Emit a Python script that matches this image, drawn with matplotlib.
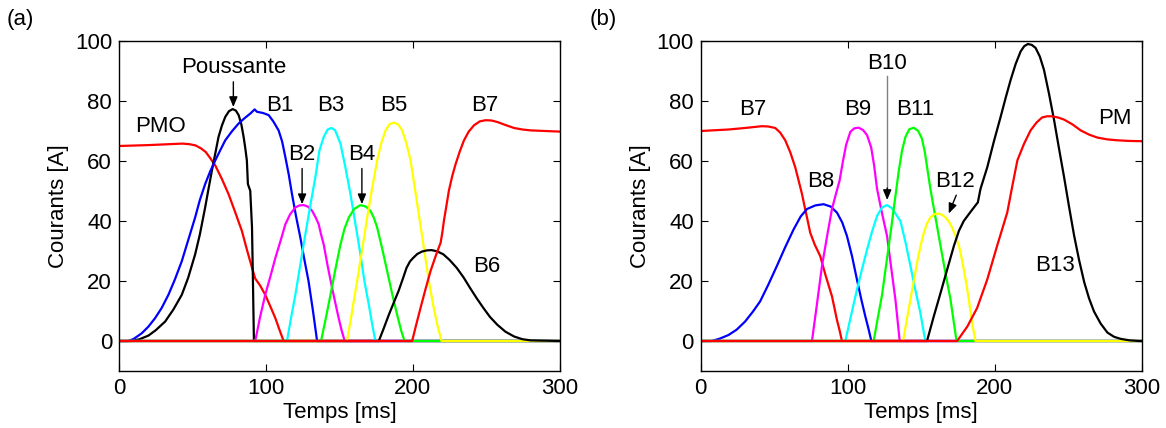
import matplotlib
matplotlib.use('Agg')
import matplotlib.pyplot as plt

plt.rcParams['font.family'] = ['Liberation Sans', 'DejaVu Sans']

# ---- panel (a) : courants (temps en ms, courant en A) ----
t_pmo = [0, 20, 43, 48, 52, 55.5, 59, 62, 65.5, 70, 74.5, 79, 83.6, 87, 90.5, 92.7, 96, 99.5, 103, 106.4, 109, 112, 300]
v_pmo = [65, 65.3, 65.8, 65.6, 65.2, 64.3, 63, 61, 58.5, 54, 49, 43, 36.7, 30.5, 24.4, 20.8, 18.5, 15.4, 11.5, 7.6, 4, 0, 0]

t_pous = [0, 8.6, 14, 20, 25, 31.4, 37, 42.7, 47, 51.8, 55, 58.6, 61, 63.2, 65.5, 67.7, 70, 72.3, 74.8, 77.3,
          79.5, 81.4, 83.2, 84.8, 86, 87, 87.7, 89.3, 90.5, 91.1, 91.8, 300]
v_pous = [0, 0, 0.6, 1.8, 3.6, 6.5, 10.5, 15.4, 21, 28.9, 35.5, 44.5, 51, 56.8, 62.5, 68, 71.8, 74.7, 76.6, 77.3,
          76.8, 75.3, 72.3, 68, 64, 60.2, 52.3, 50.1, 37.8, 21, 0, 0]

t_b1 = [0, 6.4, 10, 15.5, 20, 24.5, 29, 33.6, 38, 42.7, 47, 51.8, 55, 58.6, 62, 65.5, 69, 72.3, 77, 81.4, 85.5,
        89.3, 92.3, 93.9, 98, 101.8, 105, 108.6, 111, 113.2, 115.5, 117.7, 120.5, 123.4, 126, 129, 132, 134.8, 300]
v_b1 = [0, 0, 0.7, 2.6, 4.8, 7.6, 11, 15.4, 20.5, 26.6, 33.5, 41.2, 47, 52.3, 56.5, 60.2, 63.7, 66.9, 70, 72.5, 74.3,
        75.8, 77.2, 76.4, 76, 75.3, 73.2, 70.2, 66.5, 61.3, 55.5, 49, 41.5, 34.5, 27.5, 19.9, 10, 0, 0]

t_b2 = [0, 92.7, 96, 99.5, 103, 106.4, 110, 113.2, 116.5, 120, 122.8, 125.7, 128.5, 131.4, 134, 135.9, 137.5,
        139.3, 142, 145, 147.3, 149.5, 151.5, 153.6, 300]
v_b2 = [0, 0, 8, 15.4, 21.5, 27.7, 33.5, 38.9, 42.3, 44.5, 45.2, 45.3, 44.8, 43.4, 41, 38.9, 35.5,
        32.2, 25, 17.7, 12.5, 7.6, 3.5, 0, 0]

t_b3 = [0, 114.3, 117, 120, 123.4, 126.8, 130.2, 133.6, 136.4, 139.3, 142, 144.5, 147, 150.7, 154, 157.5, 160.9,
        164.3, 167, 170, 172.5, 174.5, 300]
v_b3 = [0, 0, 7.5, 15.4, 25.5, 35.6, 45.2, 54.6, 63.5, 68, 70.5, 71, 70.3, 65.8, 58, 49, 39,
        28.9, 20, 12.1, 5, 0, 0]

t_b4 = [0, 137.5, 140.7, 143.9, 147.3, 150.7, 153.5, 156.4, 160, 164.3, 168, 171.1, 173.5, 175.7, 179, 182.5,
        186, 189.3, 192, 194.3, 300]
v_b4 = [0, 0, 7.5, 15.4, 24, 32.2, 37.5, 41.2, 44, 45.3, 44.8, 43.4, 41, 37.8, 31, 23.3,
        15.5, 8.7, 3.5, 0, 0]

t_b5 = [0, 155.2, 158.5, 162, 165.5, 168.9, 172.3, 175.7, 178.5, 181.4, 184, 187, 190, 192.7, 195.5, 198.4,
        201, 204, 207.5, 210.9, 214, 216.6, 219.5, 300]
v_b5 = [0, 0, 9.5, 19.9, 30.5, 41.2, 51, 60.2, 66, 70.2, 72.2, 72.8, 72.2, 70.2, 66, 60.2,
        52, 42.3, 31, 19.9, 11.5, 5.4, 0, 0]

t_b6 = [0, 176.8, 180, 183.6, 187, 190.2, 193, 195.7, 198, 200.2, 203, 206.1, 209.5, 212.7, 216.5, 220.7, 225,
        229.8, 234.5, 238.9, 243.5, 248, 252.5, 257.5, 263, 268.9, 274.5, 280.2, 300]
v_b6 = [0, 0, 4, 8.7, 12.8, 16.6, 20.5, 24.4, 26.5, 27.7, 29, 29.8, 30.2, 30.3, 29.9, 28.9, 27,
        24.4, 21.2, 17.7, 14.2, 11, 8, 5.4, 3.1, 1.5, 0.6, 0.2, 0]

t_b7a = [0, 199.5, 202.3, 205.2, 208.6, 212, 215.5, 218.9, 220, 221.1, 222.8, 224.5, 226.8, 229.1, 232, 234.8,
         238, 241.6, 245.5, 249.5, 253.5, 257.5, 263, 268.9, 274.5, 280.2, 290, 300]
v_b7a = [0, 0, 5.5, 11, 17.3, 23.3, 28.3, 32.8, 36, 40, 45, 50.1, 55, 59, 63.3, 66.9,
         69.8, 71.9, 73.2, 73.6, 73.5, 73, 72, 71, 70.5, 70.2, 70, 69.8]

# ---- panel (b) ----
t_b7b = [0, 18.9, 30, 41.6, 46, 50.7, 54, 57.5, 61, 64.3, 66.6, 68.9, 70.6, 72.3, 74.5, 77.5, 81.3, 85,
         89.3, 91, 92.7, 94.5, 96.1, 300]
v_b7b = [70, 70.5, 71, 71.6, 71.5, 71, 69.5, 66.9, 62.8, 57.9, 53.5, 49, 45, 41.2, 36.1, 32.2, 28.3, 21.8,
         14.9, 11, 7, 3.5, 0, 0]

t_b8 = [0, 7.5, 13, 18.9, 24.5, 30.2, 35.5, 40.4, 46, 51.8, 57.5, 63.2, 68, 72.3, 78, 83.6, 88.5, 92.7, 96.3,
        99.5, 103, 106.3, 109.3, 112, 114.2, 116.1, 300]
v_b8 = [0, 0, 0.8, 2, 3.8, 6.5, 9.8, 13.2, 18.8, 25, 31.3, 37.2, 41.5, 44, 45.2, 45.6, 44.8, 42.8, 39.5,
        35, 28.2, 20.5, 13.8, 8.2, 4, 0, 0]

t_b9 = [0, 75.7, 79, 82.5, 86, 89.3, 92, 94.5, 96.8, 99, 101.8, 104.5, 107.5, 110.5, 113.2, 116, 118, 120,
        123.4, 126.8, 129.6, 132.5, 135.4, 300]
v_b9 = [0, 0, 12, 25, 35, 44, 49, 53.5, 60, 65.5, 69.7, 70.9, 71.1, 70.3, 68.6, 64.5, 58.5, 50.7,
        42.5, 35, 24.5, 13.8, 0, 0]

t_b10 = [0, 98.4, 102.3, 106.3, 109.8, 113.2, 116.6, 120, 123.4, 126.8, 130, 132.5, 135.9, 139.3, 142.7, 146,
         149.5, 151.2, 152.9, 300]
v_b10 = [0, 0, 8.5, 17.1, 24, 30.5, 36.5, 41.7, 44.5, 45.3, 44.3, 42.5, 40, 33, 25, 17.2,
         9.3, 4.5, 0, 0]

t_b11 = [0, 117.7, 120.5, 123.4, 126.2, 129.1, 132, 134.8, 137, 139.3, 142, 145, 148, 150.5, 152.5, 154.5,
         156.3, 159.8, 163.2, 166.6, 170, 172, 174.1, 300]
v_b11 = [0, 0, 7.7, 15.4, 25.5, 35.6, 46.5, 56.8, 63.5, 68, 70.6, 71.1, 70, 67.5, 63, 56.5,
         50.7, 41, 31.7, 22.5, 13.8, 7, 0, 0]

t_b12 = [0, 137.7, 140.2, 142.7, 145, 147.2, 149.5, 151.8, 154, 156.3, 158.8, 161.3, 164, 166.6, 169, 171.1,
         173.4, 175.7, 177.4, 179, 180.8, 182.5, 184.7, 187, 300]
v_b12 = [0, 0, 7, 13.8, 20, 26, 31.5, 36, 39.2, 41.2, 42.2, 42.5, 42.1, 41.2, 39.7, 37.8,
         35, 31.7, 28, 23.8, 19, 13.8, 5.9, 0, 0]

t_b13 = [0, 154, 158.6, 163.2, 167.7, 172.3, 175.7, 179, 182.5, 185.9, 188.6, 190.4, 195, 199.5, 204.1, 207.5,
         210.9, 214.3, 217.7, 220.2, 222.7, 225.3, 227.9, 230.8, 233.6, 237, 240.5, 243.9, 247.3, 250.7, 254.1,
         257.5, 261, 264.3, 267.7, 272.2, 276.8, 281.3, 285.9, 292, 298.4, 300]
v_b13 = [0, 0, 8.2, 16, 23.8, 31.7, 36.7, 40, 42.3, 44.5, 46.2, 50.7, 57.9, 66.5, 74.7, 81,
         87, 92.3, 96.5, 98.3, 99, 98.7, 97.7, 94.8, 90.4, 82.5, 73.6, 64, 54.6, 44.7, 35.2,
         27, 19.6, 14.2, 9.8, 5.8, 2.8, 1.4, 0.7, 0.2, 0, 0]

t_pm = [0, 174.5, 181.4, 188.1, 195, 201.7, 208.6, 212, 215.5, 220, 224.5, 228.5, 232.3, 235.7, 239.1, 243.2,
        247.3, 253, 258.6, 264.3, 270, 276.8, 283.6, 291, 300]
v_pm = [0, 0, 4.8, 11, 20.5, 31.7, 42.8, 51.5, 60.2, 65.7, 70.2, 72.8, 74.5, 74.9, 74.9, 74.5,
        73.8, 72.2, 70.2, 68.8, 67.8, 67.2, 66.9, 66.7, 66.6]

fig = plt.figure(figsize=(11.66, 4.28), dpi=100)
ax1 = fig.add_axes([0.1021, 0.1332, 0.378, 0.771])
ax2 = fig.add_axes([0.601, 0.1332, 0.378, 0.771])

lw = 1.6
# ordre de trace choisi pour que la ligne de zero ait les bonnes couleurs
ax1.plot(t_pmo, v_pmo, color='#ff0000', lw=lw)
ax1.plot(t_pous, v_pous, color='k', lw=lw)
ax1.plot(t_b1, v_b1, color='#0000ff', lw=lw)
ax1.plot(t_b2, v_b2, color='#ff00ff', lw=lw)
ax1.plot(t_b3, v_b3, color='#00ffff', lw=lw)
ax1.plot(t_b4, v_b4, color='#00ff00', lw=lw)
ax1.plot(t_b5, v_b5, color='#ffff00', lw=lw)
ax1.plot(t_b6, v_b6, color='k', lw=lw)
ax1.plot(t_b7a, v_b7a, color='#ff0000', lw=lw)

ax2.plot(t_b7b, v_b7b, color='#ff0000', lw=lw)
ax2.plot(t_b8, v_b8, color='#0000ff', lw=lw)
ax2.plot(t_b9, v_b9, color='#ff00ff', lw=lw)
ax2.plot(t_b10, v_b10, color='#00ffff', lw=lw)
ax2.plot(t_b11, v_b11, color='#00ff00', lw=lw)
ax2.plot(t_b12, v_b12, color='#ffff00', lw=lw)
ax2.plot(t_b13, v_b13, color='k', lw=lw)
ax2.plot(t_pm, v_pm, color='#ff0000', lw=lw)

fs = 16
for ax in (ax1, ax2):
    ax.set_xlim(0, 300)
    ax.set_ylim(-10, 100)
    ax.set_xticks([0, 100, 200, 300])
    ax.set_yticks([0, 20, 40, 60, 80, 100])
    ax.tick_params(direction='in', top=True, right=True, length=5, width=0.8,
                   labelsize=fs, pad=5)
    for s in ax.spines.values():
        s.set_linewidth(1.0)
    ax.set_xlabel('Temps [ms]', fontsize=fs, labelpad=2)
    ax.set_ylabel('Courants [A]', fontsize=fs, labelpad=4)

arrow = dict(arrowstyle='-|>,head_length=0.6,head_width=0.25', color='k', lw=1, shrinkA=0, shrinkB=0)

# textes panneau (a)
ax1.text(78.3, 91.1, 'Poussante', fontsize=fs, ha='center', va='center')
ax1.annotate('', xy=(77.8, 78), xytext=(77.8, 86.4), arrowprops=arrow)
ax1.text(28, 71.6, 'PMO', fontsize=fs, ha='center', va='center')
ax1.text(109.3, 78.6, 'B1', fontsize=fs, ha='center', va='center')
ax1.text(144.2, 78.6, 'B3', fontsize=fs, ha='center', va='center')
ax1.text(186.9, 78.6, 'B5', fontsize=fs, ha='center', va='center')
ax1.text(249.2, 78.6, 'B7', fontsize=fs, ha='center', va='center')
ax1.text(124.6, 62, 'B2', fontsize=fs, ha='center', va='center')
ax1.annotate('', xy=(124.6, 45.6), xytext=(124.6, 57.5), arrowprops=arrow)
ax1.text(165.3, 62, 'B4', fontsize=fs, ha='center', va='center')
ax1.annotate('', xy=(165.3, 45.6), xytext=(165.3, 57.5), arrowprops=arrow)
ax1.text(250.4, 24.7, 'B6', fontsize=fs, ha='center', va='center')

# textes panneau (b)
ax2.text(35.5, 77, 'B7', fontsize=fs, ha='center', va='center')
ax2.text(107, 77, 'B9', fontsize=fs, ha='center', va='center')
ax2.text(146, 77, 'B11', fontsize=fs, ha='center', va='center')
ax2.text(126.9, 92.5, 'B10', fontsize=fs, ha='center', va='center')
ax2.plot([126.9, 126.9], [88.3, 50], color='0.5', lw=1)
ax2.annotate('', xy=(126.9, 47), xytext=(126.9, 51), arrowprops=arrow)
ax2.text(82, 53, 'B8', fontsize=fs, ha='center', va='center')
ax2.text(173, 53, 'B12', fontsize=fs, ha='center', va='center')
ax2.annotate('', xy=(168.8, 42.5), xytext=(173.9, 48.6), arrowprops=arrow)
ax2.text(281.7, 74.2, 'PM', fontsize=fs, ha='center', va='center')
ax2.text(241, 25.3, 'B13', fontsize=fs, ha='center', va='center')

fig.text(20 / 1166, 1 - 19 / 428, '(a)', fontsize=fs, ha='center', va='center')
fig.text(603 / 1166, 1 - 19 / 428, '(b)', fontsize=fs, ha='center', va='center')

fig.savefig('out.png', dpi=100)
